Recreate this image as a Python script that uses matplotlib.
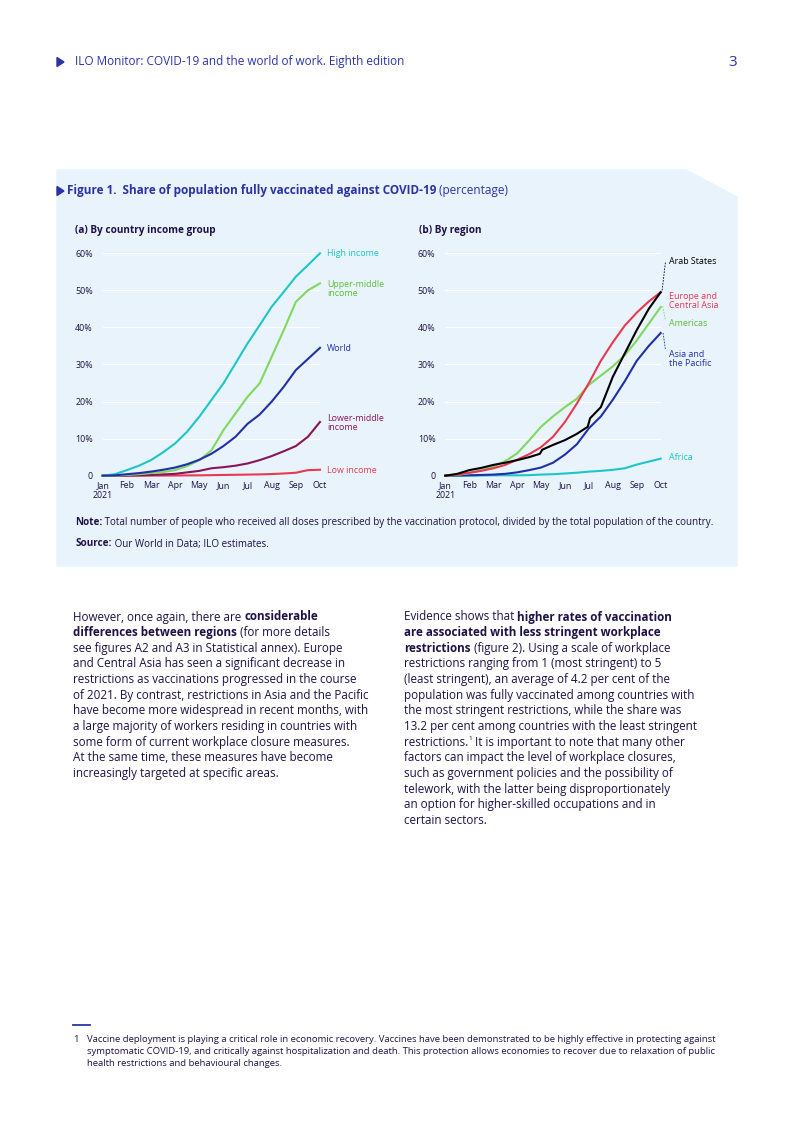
import numpy as np
import matplotlib
matplotlib.use('Agg')
import matplotlib.pyplot as plt
from matplotlib.patches import Polygon
from matplotlib.lines import Line2D

# Noto Sans here is a variable font without a usable bold, Open Sans has static weights
plt.rcParams['font.family'] = ['Open Sans', 'DejaVu Sans']

# x in months from 1 Jan 2021 (0) to 1 Oct 2021 (9), half-month steps
months = np.arange(0, 9.01, 0.5)
month_ticks = np.arange(0, 10)
month_labels = ['Jan\n2021', 'Feb', 'Mar', 'Apr', 'May', 'Jun', 'Jul', 'Aug', 'Sep', 'Oct']
pct_ticks = [0, 10, 20, 30, 40, 50, 60]
pct_labels = ['0', '10%', '20%', '30%', '40%', '50%', '60%']

# (a) by country income group, share fully vaccinated (%)
high_income = [0, 0.4, 1.5, 2.7, 4.2, 6.3, 8.7, 11.9, 15.9, 20.4, 24.9, 30.3, 35.7, 40.6, 45.6, 49.6, 53.7, 56.8, 60.0]
upper_middle = [0, 0.05, 0.2, 0.4, 0.7, 1.0, 1.5, 2.6, 4.2, 6.8, 12.3, 16.8, 21.3, 24.9, 32.1, 39.3, 46.9, 50.0, 51.9]
world = [0, 0.1, 0.4, 0.7, 1.1, 1.6, 2.2, 3.1, 4.3, 5.9, 8.0, 10.5, 14.0, 16.5, 20.0, 24.0, 28.5, 31.5, 34.5]
lower_middle = [0, 0.02, 0.05, 0.1, 0.2, 0.35, 0.5, 0.9, 1.3, 2.0, 2.3, 2.7, 3.3, 4.2, 5.3, 6.6, 8.0, 10.5, 14.5]
low_income = [0, 0, 0, 0.02, 0.03, 0.04, 0.05, 0.08, 0.1, 0.15, 0.2, 0.25, 0.3, 0.35, 0.45, 0.6, 0.8, 1.5, 1.6]

# (b) by region
europe_ca = [0, 0.3, 0.8, 1.3, 2.0, 2.9, 4.3, 5.8, 7.7, 10.5, 14.5, 19.5, 25.0, 31.0, 36.0, 40.5, 44.0, 47.0, 49.5]
americas = [0, 0.2, 0.7, 1.5, 2.5, 3.9, 6.0, 9.5, 13.2, 16.0, 18.5, 20.8, 24.5, 27.0, 29.5, 32.5, 36.5, 41.0, 45.5]
asia_pacific = [0, 0.05, 0.1, 0.2, 0.3, 0.5, 0.9, 1.5, 2.2, 3.5, 5.7, 8.5, 12.8, 16.0, 20.5, 25.5, 31.0, 35.0, 38.5]
africa = [0, 0, 0.05, 0.05, 0.1, 0.1, 0.1, 0.15, 0.3, 0.4, 0.6, 0.8, 1.1, 1.3, 1.6, 2.0, 3.0, 3.8, 4.6]
# Arab States has two jumps, so its own x points
arab_months = [0, 0.5, 1, 1.5, 2, 2.5, 3, 3.5, 3.95, 4.05, 4.5, 5, 5.5, 5.95, 6.05, 6.5, 7, 7.5, 8, 8.5, 9]
arab_states = [0, 0.5, 1.5, 2.1, 2.9, 3.5, 4.2, 5.0, 5.9, 7.0, 8.3, 9.6, 11.3, 13.2, 15.5, 18.5, 26.7, 33.0, 39.3, 45.0, 49.5]

# colours
NAVY = '#1f1147'
BLUE = '#2b33a6'
BG = '#e8f3fc'
CYAN = '#1cc6c9'
GREEN = '#80d85e'
LGREEN = '#5cbf3c'
DBLUE = '#2230a8'
PLUM = '#8a1459'
RED = '#e8394f'

W, H = 793, 1122
fig = plt.figure(figsize=(W / 100, H / 100), dpi=100)
fig.patch.set_facecolor('white')
renderer = fig.canvas.get_renderer()


def fx(x):
    return x / W


def fy(y):
    return 1 - y / H


def runs(x, y, parts, size, color=NAVY):
    # write text pieces one after another on one line, (text, weight)
    for txt, wt in parts:
        t = fig.text(fx(x), fy(y), txt, fontsize=size, fontweight=wt, color=color, va='center', ha='left')
        bb = t.get_window_extent(renderer)
        x = bb.x1


# page header
fig.patches.append(Polygon([[fx(57), fy(57.5)], [fx(57), fy(66.5)], [fx(64), fy(62)]], closed=True,
                           transform=fig.transFigure, color=BLUE))
fig.text(fx(75), fy(62), 'ILO Monitor: COVID-19 and the world of work. Eighth edition', fontsize=8.5, color=BLUE, va='center')
fig.text(fx(737), fy(63), '3', fontsize=11, color=BLUE, va='center', ha='right')

# figure box with cut corner
fig.patches.append(Polygon([[fx(57), fy(170)], [fx(686), fy(170)], [fx(737), fy(197)], [fx(737), fy(566)], [fx(57), fy(566)]],
                           closed=True, transform=fig.transFigure, color=BG, zorder=-5))
fig.patches.append(Polygon([[fx(57), fy(186.5)], [fx(57), fy(195.5)], [fx(64), fy(191)]], closed=True,
                           transform=fig.transFigure, color=BLUE))
runs(67, 191, [('Figure 1.  Share of population fully vaccinated against COVID-19', 'bold'), (' (percentage)', 'normal')], 8.45, BLUE)

fig.text(fx(75), fy(230), '(a) By country income group', fontsize=7.2, fontweight='bold', color=NAVY, va='center')
fig.text(fx(419), fy(230), '(b) By region', fontsize=7.2, fontweight='bold', color=NAVY, va='center')


def style(ax):
    ax.set_facecolor('none')
    ax.set_xlim(0, 9)
    ax.set_ylim(0, 60)
    for s in ax.spines.values():
        s.set_visible(False)
    ax.set_yticks(pct_ticks)
    ax.set_yticklabels(pct_labels)
    ax.set_xticks(month_ticks)
    ax.set_xticklabels(month_labels, linespacing=1.1)
    ax.tick_params(length=0, labelsize=6.4, labelcolor=NAVY)
    ax.tick_params(axis='y', pad=7)
    ax.tick_params(axis='x', pad=4)
    ax.grid(axis='y', color='white', lw=0.9)
    ax.set_axisbelow(True)


axa = fig.add_axes([fx(102.7), fy(475.7), (320 - 102.7) / W, 222.4 / H])
style(axa)
lw = 1.5
axa.plot(months, low_income, color=RED, lw=lw, clip_on=False)
axa.plot(months, lower_middle, color=PLUM, lw=lw, clip_on=False)
axa.plot(months, high_income, color=CYAN, lw=lw, clip_on=False)
axa.plot(months, upper_middle, color=GREEN, lw=lw, clip_on=False)
axa.plot(months, world, color=DBLUE, lw=lw, clip_on=False)

lab = dict(fontsize=6.4, va='center', ha='left', linespacing=1.1, clip_on=False)
axa.text(9.3, 60.0, 'High income', color=CYAN, **lab)
axa.text(9.3, 50.4, 'Upper-middle\nincome', color=LGREEN, **lab)
axa.text(9.3, 34.4, 'World', color=DBLUE, **lab)
axa.text(9.3, 14.2, 'Lower-middle\nincome', color=PLUM, **lab)
axa.text(9.3, 1.5, 'Low income', color=RED, **lab)

axb = fig.add_axes([fx(445.3), fy(475.7), (660.7 - 445.3) / W, 222.4 / H])
style(axb)
axb.plot(months, africa, color=CYAN, lw=lw, clip_on=False)
axb.plot(months, asia_pacific, color=DBLUE, lw=lw, clip_on=False)
axb.plot(months, americas, color=GREEN, lw=lw, clip_on=False)
axb.plot(months, europe_ca, color=RED, lw=lw, clip_on=False)
axb.plot(arab_months, arab_states, color='black', lw=lw, clip_on=False)

# dashed leader lines for labels
dash = dict(lw=0.6, ls=(0, (2, 1.5)), clip_on=False)
axb.plot([9.06, 9.2], [50.0, 57.7], color='black', **dash)
axb.plot([9.08, 9.2], [45.7, 42.0], color=GREEN, **dash)
axb.plot([9.1, 9.2], [38.5, 33.9], color=DBLUE, **dash)

axb.text(9.35, 57.9, 'Arab States', color='black', **lab)
axb.text(9.35, 47.1, 'Europe and\nCentral Asia', color=RED, **lab)
axb.text(9.35, 41.0, 'Americas', color=LGREEN, **lab)
axb.text(9.35, 31.5, 'Asia and\nthe Pacific', color=DBLUE, **lab)
axb.text(9.35, 4.8, 'Africa', color=CYAN, **lab)

# note and source
runs(75, 523, [('Note:', 'bold'), (' Total number of people who received all doses prescribed by the vaccination protocol, '
                                   'divided by the total population of the country.', 'normal')], 7.1)
runs(75, 544, [('Source:', 'bold'), (' Our World in Data; ILO estimates.', 'normal')], 7.1)

# body text
B = 'bold'
N = 'normal'
left_col = [
    [('However, once again, there are ', N), ('considerable', B)],
    [('differences between regions', B), (' (for more details', N)],
    [('see figures A2 and A3 in Statistical annex). Europe', N)],
    [('and Central Asia has seen a significant decrease in', N)],
    [('restrictions as vaccinations progressed in the course', N)],
    [('of 2021. By contrast, restrictions in Asia and the Pacific', N)],
    [('have become more widespread in recent months, with', N)],
    [('a large majority of workers residing in countries with', N)],
    [('some form of current workplace closure measures.', N)],
    [('At the same time, these measures have become', N)],
    [('increasingly targeted at specific areas.', N)],
]
right_col = [
    [('Evidence shows that ', N), ('higher rates of vaccination', B)],
    [('are associated with less stringent workplace', B)],
    [('restrictions', B), (' (figure 2). Using a scale of workplace', N)],
    [('restrictions ranging from 1 (most stringent) to 5', N)],
    [('(least stringent), an average of 4.2 per cent of the', N)],
    [('population was fully vaccinated among countries with', N)],
    [('the most stringent restrictions, while the share was', N)],
    [('13.2 per cent among countries with the least stringent', N)],
    None,
    [('factors can impact the level of workplace closures,', N)],
    [('such as government policies and the possibility of', N)],
    [('telework, with the latter being disproportionately', N)],
    [('an option for higher-skilled occupations and in', N)],
    [('certain sectors.', N)],
]
body_size = 8.4
step = 15.65
for i, line in enumerate(left_col):
    runs(73, 617 + i * step, line, body_size)
for i, line in enumerate(right_col):
    if line is not None:
        runs(404, 617 + i * step, line, body_size)

# line with footnote mark
y9 = 617 + 8 * step
t = fig.text(fx(404), fy(y9), 'restrictions.', fontsize=body_size, color=NAVY, va='center')
x1 = t.get_window_extent(renderer).x1
t = fig.text(x1 / W + 0.0005, fy(y9 - 4), '1', fontsize=4.5, color=NAVY, va='center')
x1 = t.get_window_extent(renderer).x1
fig.text(x1 / W, fy(y9), ' It is important to note that many other', fontsize=body_size, color=NAVY, va='center')

# footnote
fig.add_artist(Line2D([fx(73), fx(90)], [fy(1025), fy(1025)], color=BLUE, lw=1.3, transform=fig.transFigure))
foot = ['Vaccine deployment is playing a critical role in economic recovery. Vaccines have been demonstrated to be highly effective in protecting against',
        'symptomatic COVID-19, and critically against hospitalization and death. This protection allows economies to recover due to relaxation of public',
        'health restrictions and behavioural changes.']
fig.text(fx(73), fy(1040), '1', fontsize=6.8, color=NAVY, va='center')
for i, s in enumerate(foot):
    fig.text(fx(87), fy(1040 + i * 12), s, fontsize=6.8, color=NAVY, va='center')

fig.savefig('out.png', dpi=100, facecolor='white')
